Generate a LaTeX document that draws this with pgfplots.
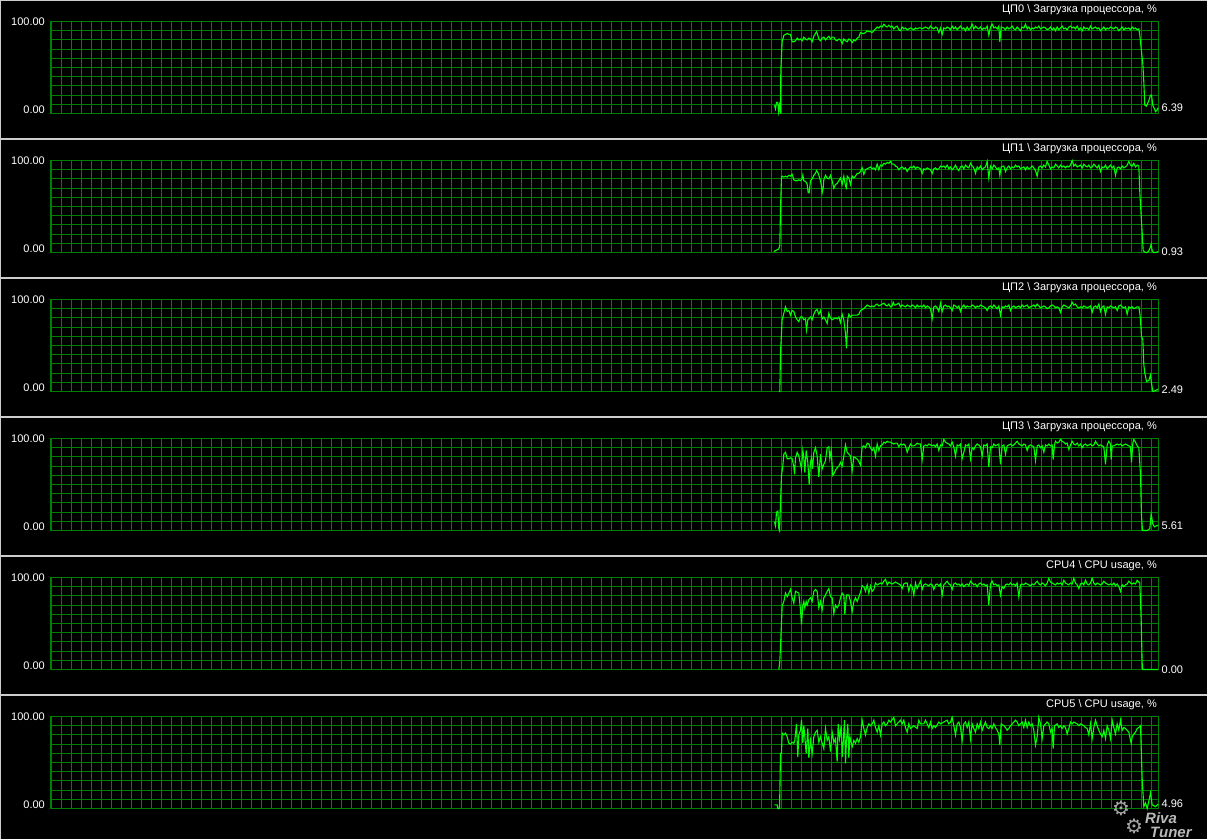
\documentclass[border=0pt]{standalone}
\usepackage{pgfplots}
\pgfplotsset{compat=1.18}
\usepackage{pgfplotstable}
\usepackage{fontspec}
\setmainfont{Liberation Sans}
\newfontfamily\symfont{DejaVu Sans}
\definecolor{gridgreen}{RGB}{0,128,0}
\definecolor{linegreen}{RGB}{0,255,0}
\definecolor{sepgrey}{RGB}{205,205,205}

\pgfplotstableread[row sep=\\]{t v\\
12 9\\ 15 5\\ 18 12\\ 22 12\\ 24 2\\ 27 9\\ 30 0\\ 31 47\\ 35 78\\ 40 85\\ 45 86\\ 50 87\\ 55 86\\ 60 86\\ 65 78\\ 70 78\\ 75 79\\ 80 82\\ 85 80\\ 90 81\\ 95 79\\ 100 83\\ 105 81\\ 110 80\\ 115 82\\ 120 81\\ 125 78\\ 130 84\\ 138 89\\ 142 85\\ 145 81\\ 150 79\\ 155 82\\ 160 83\\ 165 80\\ 170 82\\ 175 84\\ 180 81\\ 185 83\\ 190 83\\ 195 80\\ 200 79\\ 205 81\\ 210 80\\ 215 76\\ 220 81\\ 225 79\\ 230 78\\ 235 81\\ 240 80\\ 245 77\\ 250 80\\ 255 79\\ 260 82\\ 265 83\\ 270 88\\ 275 87\\ 280 87\\ 285 88\\ 290 90\\ 295 89\\ 300 89\\ 305 88\\ 310 90\\ 315 92\\ 320 94\\ 325 93\\ 330 95\\ 335 94\\ 340 97\\ 345 95\\ 350 94\\ 355 96\\ 360 94\\ 365 95\\ 370 92\\ 375 94\\ 380 95\\ 385 91\\ 390 90\\ 395 94\\ 400 92\\ 405 93\\ 410 91\\ 415 92\\ 420 93\\ 425 92\\ 430 91\\ 435 93\\ 440 92\\ 445 93\\ 450 93\\ 455 92\\ 460 93\\ 465 94\\ 470 93\\ 475 92\\ 480 95\\ 485 93\\ 490 92\\ 495 94\\ 500 93\\ 505 88\\ 510 93\\ 515 86\\ 520 93\\ 525 92\\ 530 94\\ 535 93\\ 540 91\\ 545 95\\ 550 92\\ 555 94\\ 560 91\\ 565 93\\ 570 95\\ 575 92\\ 580 93\\ 585 90\\ 590 94\\ 595 91\\ 600 93\\ 605 97\\ 610 92\\ 615 95\\ 620 93\\ 625 92\\ 630 94\\ 635 91\\ 640 93\\ 645 92\\ 650 95\\ 655 85\\ 660 94\\ 665 97\\ 670 93\\ 675 94\\ 680 92\\ 685 95\\ 688 78\\ 692 94\\ 700 93\\ 705 91\\ 710 94\\ 715 92\\ 720 93\\ 725 95\\ 730 92\\ 735 91\\ 740 94\\ 745 92\\ 750 90\\ 755 94\\ 760 93\\ 765 97\\ 770 92\\ 775 94\\ 780 91\\ 785 93\\ 790 92\\ 795 94\\ 800 93\\ 805 95\\ 810 92\\ 815 93\\ 820 94\\ 825 93\\ 830 91\\ 835 92\\ 840 94\\ 845 91\\ 850 93\\ 855 90\\ 860 94\\ 865 91\\ 870 93\\ 875 95\\ 880 92\\ 885 93\\ 890 91\\ 895 94\\ 900 95\\ 905 93\\ 910 94\\ 915 92\\ 920 95\\ 925 91\\ 930 93\\ 935 90\\ 940 94\\ 945 92\\ 950 93\\ 955 91\\ 960 95\\ 965 92\\ 970 93\\ 975 94\\ 980 92\\ 985 93\\ 990 90\\ 995 92\\ 1000 94\\ 1005 91\\ 1010 93\\ 1015 92\\ 1020 94\\ 1025 93\\ 1030 92\\ 1035 94\\ 1040 93\\ 1045 90\\ 1050 92\\ 1055 94\\ 1060 91\\ 1065 93\\ 1070 92\\ 1075 93\\ 1080 91\\ 1085 94\\ 1090 92\\ 1095 93\\ 1100 91\\ 1105 92\\ 1108 85\\ 1110 78\\ 1113 67\\ 1117 54\\ 1120 34\\ 1123 9\\ 1128 8\\ 1135 14\\ 1140 20\\ 1143 20\\ 1147 9\\ 1152 5\\ 1155 2\\ 1160 4\\ 1163 6.39\\
}\cpuA

\pgfplotstableread[row sep=\\]{t v\\
10 1\\ 15 2\\ 20 3\\ 25 4\\ 28 8\\ 30 47\\ 33 82\\ 35 83\\ 40 82\\ 45 83\\ 50 82\\ 55 84\\ 60 83\\ 65 85\\ 70 79\\ 75 78\\ 80 78\\ 85 79\\ 90 78\\ 95 80\\ 97 84\\ 100 78\\ 105 77\\ 108 76\\ 110 74\\ 113 65\\ 116 65\\ 120 78\\ 125 80\\ 130 84\\ 135 86\\ 138 89\\ 142 87\\ 145 84\\ 150 78\\ 153 72\\ 155 65\\ 158 70\\ 160 79\\ 165 84\\ 170 81\\ 175 80\\ 180 84\\ 185 78\\ 190 70\\ 195 74\\ 200 75\\ 205 78\\ 210 81\\ 215 74\\ 220 83\\ 225 72\\ 228 70\\ 230 83\\ 235 81\\ 240 74\\ 245 83\\ 250 81\\ 255 83\\ 260 86\\ 265 86\\ 270 88\\ 275 92\\ 280 85\\ 285 90\\ 290 91\\ 295 92\\ 300 93\\ 305 91\\ 310 92\\ 315 90\\ 320 96\\ 325 90\\ 330 95\\ 335 94\\ 340 97\\ 345 96\\ 350 98\\ 355 97\\ 360 99\\ 365 96\\ 370 96\\ 375 94\\ 380 93\\ 385 90\\ 390 92\\ 395 93\\ 400 91\\ 405 92\\ 410 88\\ 415 91\\ 420 93\\ 425 92\\ 430 94\\ 435 91\\ 440 93\\ 445 92\\ 450 91\\ 455 86\\ 460 91\\ 465 90\\ 470 92\\ 475 91\\ 480 90\\ 485 86\\ 490 91\\ 495 92\\ 500 90\\ 505 91\\ 510 94\\ 515 93\\ 520 94\\ 525 92\\ 530 95\\ 535 91\\ 540 93\\ 545 90\\ 550 92\\ 555 95\\ 560 91\\ 565 89\\ 570 93\\ 575 94\\ 580 91\\ 585 95\\ 590 93\\ 595 92\\ 600 97\\ 605 94\\ 610 92\\ 615 86\\ 620 93\\ 625 91\\ 630 94\\ 635 90\\ 640 92\\ 645 93\\ 650 99\\ 655 81\\ 660 94\\ 665 91\\ 670 95\\ 675 93\\ 680 90\\ 685 92\\ 688 84\\ 692 93\\ 700 94\\ 705 88\\ 710 92\\ 715 94\\ 720 91\\ 725 93\\ 730 92\\ 735 95\\ 740 93\\ 745 94\\ 750 91\\ 755 92\\ 760 93\\ 765 90\\ 770 93\\ 775 91\\ 780 92\\ 785 94\\ 790 92\\ 795 89\\ 800 83\\ 805 93\\ 810 94\\ 815 92\\ 820 95\\ 825 93\\ 830 99\\ 835 95\\ 840 91\\ 845 93\\ 850 92\\ 855 96\\ 860 94\\ 865 92\\ 870 95\\ 875 93\\ 880 94\\ 885 92\\ 890 94\\ 895 93\\ 900 95\\ 905 100\\ 910 94\\ 915 96\\ 920 93\\ 925 94\\ 930 95\\ 935 92\\ 940 96\\ 945 94\\ 950 93\\ 955 95\\ 960 92\\ 965 93\\ 970 96\\ 975 94\\ 980 92\\ 985 95\\ 990 88\\ 995 93\\ 1000 92\\ 1005 95\\ 1010 91\\ 1015 93\\ 1020 95\\ 1025 92\\ 1030 94\\ 1035 84\\ 1040 92\\ 1045 93\\ 1050 91\\ 1055 94\\ 1060 92\\ 1065 93\\ 1070 95\\ 1075 99\\ 1080 95\\ 1085 94\\ 1090 97\\ 1095 93\\ 1100 95\\ 1105 94\\ 1108 65\\ 1112 40\\ 1115 22\\ 1118 2\\ 1125 0\\ 1130 0\\ 1135 2\\ 1140 6\\ 1142 9\\ 1145 2\\ 1150 0\\ 1155 0\\ 1163 0.93\\
}\cpuB

\pgfplotstableread[row sep=\\]{t v\\
25 0\\ 28 0\\ 30 42\\ 35 78\\ 40 85\\ 45 92\\ 50 87\\ 55 88\\ 60 83\\ 65 88\\ 70 87\\ 75 81\\ 80 78\\ 85 76\\ 90 81\\ 95 81\\ 100 78\\ 105 79\\ 108 67\\ 112 78\\ 115 79\\ 120 81\\ 125 78\\ 130 84\\ 135 88\\ 140 89\\ 145 84\\ 150 88\\ 155 79\\ 160 81\\ 165 78\\ 170 74\\ 175 85\\ 180 80\\ 185 78\\ 190 79\\ 195 80\\ 200 79\\ 205 81\\ 210 75\\ 215 84\\ 220 78\\ 225 63\\ 228 47\\ 232 79\\ 235 84\\ 240 81\\ 245 83\\ 250 83\\ 255 83\\ 260 83\\ 265 84\\ 270 88\\ 275 89\\ 280 90\\ 285 92\\ 290 94\\ 295 93\\ 300 92\\ 305 93\\ 310 92\\ 315 94\\ 320 95\\ 325 93\\ 330 94\\ 335 95\\ 340 96\\ 345 94\\ 350 93\\ 355 95\\ 360 92\\ 365 93\\ 368 97\\ 372 94\\ 375 94\\ 380 95\\ 385 96\\ 390 92\\ 395 94\\ 400 93\\ 405 92\\ 410 94\\ 415 93\\ 420 92\\ 425 94\\ 430 93\\ 435 91\\ 440 94\\ 445 92\\ 450 93\\ 455 92\\ 460 94\\ 465 91\\ 470 93\\ 475 92\\ 480 90\\ 485 79\\ 490 92\\ 495 93\\ 500 91\\ 505 87\\ 510 96\\ 515 87\\ 520 93\\ 525 94\\ 530 92\\ 535 93\\ 540 91\\ 545 88\\ 550 94\\ 555 93\\ 560 91\\ 565 93\\ 570 87\\ 575 92\\ 580 94\\ 585 91\\ 590 93\\ 595 92\\ 600 92\\ 605 94\\ 610 93\\ 615 91\\ 620 93\\ 625 92\\ 630 94\\ 635 93\\ 640 92\\ 645 91\\ 650 88\\ 655 92\\ 660 93\\ 665 91\\ 670 94\\ 675 92\\ 680 90\\ 685 93\\ 690 83\\ 695 92\\ 700 91\\ 705 93\\ 710 92\\ 715 94\\ 720 88\\ 725 92\\ 730 93\\ 735 91\\ 740 92\\ 745 93\\ 750 91\\ 755 94\\ 760 92\\ 765 93\\ 770 94\\ 775 91\\ 780 92\\ 785 93\\ 790 94\\ 795 92\\ 800 95\\ 805 93\\ 810 91\\ 815 92\\ 820 93\\ 825 92\\ 830 90\\ 835 91\\ 840 93\\ 845 94\\ 850 93\\ 855 91\\ 860 92\\ 865 91\\ 870 86\\ 875 92\\ 880 94\\ 885 93\\ 890 92\\ 895 91\\ 900 93\\ 905 97\\ 910 94\\ 915 95\\ 920 92\\ 925 91\\ 930 92\\ 935 91\\ 940 93\\ 945 92\\ 950 91\\ 955 92\\ 960 93\\ 965 86\\ 970 92\\ 975 93\\ 980 91\\ 985 95\\ 990 87\\ 995 92\\ 1000 93\\ 1005 84\\ 1010 92\\ 1015 91\\ 1020 93\\ 1025 92\\ 1030 91\\ 1035 92\\ 1040 88\\ 1045 93\\ 1050 94\\ 1055 92\\ 1060 91\\ 1065 92\\ 1070 84\\ 1075 92\\ 1080 91\\ 1085 92\\ 1090 90\\ 1095 91\\ 1100 92\\ 1105 92\\ 1108 85\\ 1110 78\\ 1113 60\\ 1117 56\\ 1120 29\\ 1123 20\\ 1128 11\\ 1135 12\\ 1140 18\\ 1143 9\\ 1147 0\\ 1155 1\\ 1163 2.49\\
}\cpuC

\pgfplotstableread[row sep=\\]{t v\\
12 9\\ 15 5\\ 18 20\\ 22 21\\ 25 2\\ 27 0\\ 30 29\\ 33 60\\ 37 70\\ 40 83\\ 45 85\\ 50 78\\ 55 78\\ 60 79\\ 65 78\\ 70 69\\ 72 61\\ 75 79\\ 80 85\\ 85 81\\ 90 72\\ 93 67\\ 97 87\\ 100 79\\ 103 63\\ 107 87\\ 112 74\\ 116 50\\ 120 74\\ 123 79\\ 126 67\\ 130 85\\ 135 90\\ 140 81\\ 145 58\\ 150 83\\ 155 67\\ 160 72\\ 165 76\\ 170 90\\ 175 91\\ 178 78\\ 182 87\\ 187 60\\ 192 63\\ 197 67\\ 205 70\\ 210 74\\ 215 70\\ 220 81\\ 225 93\\ 230 85\\ 235 83\\ 240 81\\ 245 65\\ 250 80\\ 255 79\\ 262 77\\ 270 71\\ 275 91\\ 280 92\\ 285 90\\ 290 95\\ 295 94\\ 300 90\\ 305 87\\ 310 90\\ 315 81\\ 320 94\\ 325 87\\ 330 92\\ 335 93\\ 340 96\\ 345 95\\ 350 97\\ 355 96\\ 360 96\\ 365 95\\ 370 94\\ 375 95\\ 380 95\\ 385 91\\ 390 94\\ 395 93\\ 400 94\\ 405 92\\ 410 85\\ 415 90\\ 420 94\\ 425 92\\ 430 92\\ 435 93\\ 440 95\\ 445 94\\ 450 94\\ 455 77\\ 460 92\\ 465 93\\ 470 92\\ 475 94\\ 480 93\\ 485 92\\ 490 93\\ 495 91\\ 500 94\\ 505 87\\ 510 93\\ 515 92\\ 520 99\\ 525 96\\ 530 95\\ 535 94\\ 540 92\\ 545 96\\ 550 91\\ 555 81\\ 560 93\\ 565 92\\ 570 94\\ 575 78\\ 580 85\\ 585 93\\ 590 92\\ 595 94\\ 600 78\\ 605 90\\ 610 88\\ 615 92\\ 620 94\\ 625 93\\ 630 91\\ 635 81\\ 640 93\\ 645 92\\ 650 94\\ 655 69\\ 660 91\\ 665 90\\ 670 94\\ 675 92\\ 680 93\\ 685 94\\ 690 72\\ 695 92\\ 700 93\\ 705 83\\ 710 92\\ 715 93\\ 720 94\\ 725 92\\ 730 93\\ 735 95\\ 740 97\\ 745 94\\ 750 93\\ 755 92\\ 760 94\\ 765 93\\ 770 87\\ 775 92\\ 780 93\\ 785 92\\ 790 91\\ 795 76\\ 800 92\\ 805 93\\ 810 90\\ 815 92\\ 820 85\\ 825 93\\ 830 92\\ 835 94\\ 840 92\\ 845 93\\ 848 77\\ 852 93\\ 855 97\\ 860 95\\ 865 96\\ 870 99\\ 875 97\\ 880 96\\ 885 94\\ 890 95\\ 895 88\\ 900 93\\ 905 97\\ 910 94\\ 915 93\\ 920 95\\ 925 92\\ 930 94\\ 935 90\\ 940 93\\ 945 94\\ 950 92\\ 955 93\\ 960 94\\ 965 92\\ 970 93\\ 975 97\\ 980 94\\ 985 92\\ 990 93\\ 995 92\\ 1000 91\\ 1005 72\\ 1010 93\\ 1015 97\\ 1020 94\\ 1022 77\\ 1025 92\\ 1030 92\\ 1035 93\\ 1040 94\\ 1045 93\\ 1050 94\\ 1055 92\\ 1060 93\\ 1065 94\\ 1070 93\\ 1075 92\\ 1080 91\\ 1083 74\\ 1087 95\\ 1090 99\\ 1095 96\\ 1100 92\\ 1105 90\\ 1110 61\\ 1113 16\\ 1116 0\\ 1125 0\\ 1130 0\\ 1138 2\\ 1142 18\\ 1147 7\\ 1152 4\\ 1157 5\\ 1163 5.61\\
}\cpuD

\pgfplotstableread[row sep=\\]{t v\\
25 0\\ 28 9\\ 32 42\\ 35 69\\ 40 74\\ 45 83\\ 50 79\\ 55 83\\ 60 87\\ 65 78\\ 70 72\\ 75 85\\ 80 84\\ 85 83\\ 90 65\\ 93 49\\ 97 70\\ 100 74\\ 103 67\\ 107 74\\ 110 70\\ 115 76\\ 120 78\\ 125 74\\ 130 85\\ 135 87\\ 140 85\\ 145 67\\ 150 74\\ 155 65\\ 160 78\\ 165 81\\ 170 85\\ 175 88\\ 180 79\\ 185 78\\ 190 61\\ 195 70\\ 200 67\\ 205 70\\ 210 78\\ 215 83\\ 220 81\\ 223 60\\ 228 81\\ 235 81\\ 240 74\\ 245 63\\ 250 74\\ 255 78\\ 260 74\\ 265 79\\ 270 84\\ 275 91\\ 280 90\\ 285 85\\ 290 92\\ 295 83\\ 300 91\\ 305 85\\ 310 87\\ 315 94\\ 320 92\\ 325 93\\ 330 94\\ 335 93\\ 340 96\\ 345 98\\ 350 92\\ 355 95\\ 360 94\\ 365 93\\ 370 94\\ 375 95\\ 380 94\\ 385 93\\ 390 92\\ 395 88\\ 400 93\\ 405 94\\ 410 94\\ 415 85\\ 420 92\\ 425 90\\ 430 81\\ 435 94\\ 440 88\\ 445 92\\ 450 96\\ 455 87\\ 460 92\\ 465 93\\ 470 92\\ 475 91\\ 480 93\\ 485 92\\ 490 87\\ 495 92\\ 500 93\\ 505 91\\ 510 93\\ 515 81\\ 520 92\\ 525 94\\ 530 96\\ 535 93\\ 540 92\\ 545 87\\ 550 93\\ 555 94\\ 560 92\\ 565 93\\ 570 91\\ 575 93\\ 580 90\\ 585 92\\ 590 93\\ 595 91\\ 600 96\\ 605 94\\ 610 92\\ 615 93\\ 620 90\\ 625 93\\ 630 94\\ 635 92\\ 640 93\\ 645 91\\ 650 92\\ 655 70\\ 660 93\\ 665 96\\ 670 92\\ 675 93\\ 680 91\\ 685 92\\ 690 81\\ 695 90\\ 700 88\\ 705 92\\ 710 93\\ 715 92\\ 720 94\\ 725 92\\ 730 93\\ 735 91\\ 740 94\\ 745 79\\ 750 92\\ 755 93\\ 760 92\\ 765 94\\ 770 93\\ 775 92\\ 780 91\\ 785 93\\ 790 92\\ 795 94\\ 800 96\\ 805 93\\ 810 92\\ 815 94\\ 820 93\\ 825 91\\ 830 94\\ 835 99\\ 840 95\\ 845 94\\ 850 93\\ 855 92\\ 860 94\\ 865 93\\ 870 94\\ 875 92\\ 880 97\\ 885 94\\ 890 93\\ 895 92\\ 900 94\\ 905 93\\ 910 99\\ 915 94\\ 920 92\\ 925 88\\ 930 93\\ 935 94\\ 940 92\\ 945 97\\ 950 93\\ 955 92\\ 960 94\\ 965 99\\ 970 94\\ 975 92\\ 980 94\\ 985 93\\ 990 92\\ 995 93\\ 1000 96\\ 1005 94\\ 1010 93\\ 1015 92\\ 1020 93\\ 1025 92\\ 1030 94\\ 1035 91\\ 1040 93\\ 1045 90\\ 1050 85\\ 1055 92\\ 1060 90\\ 1065 92\\ 1070 93\\ 1075 96\\ 1080 94\\ 1085 93\\ 1090 94\\ 1095 93\\ 1100 97\\ 1105 95\\ 1108 94\\ 1112 54\\ 1115 7\\ 1117 0\\ 1130 0\\ 1140 0\\ 1150 0\\ 1163 0\\
}\cpuE

\pgfplotstableread[row sep=\\]{t v\\
12 4\\ 20 4\\ 22 0\\ 27 0\\ 28 17\\ 30 60\\ 33 60\\ 35 82\\ 40 80\\ 45 82\\ 50 78\\ 55 71\\ 60 70\\ 65 72\\ 70 71\\ 73 74\\ 78 92\\ 82 56\\ 85 80\\ 90 85\\ 93 96\\ 97 71\\ 100 90\\ 103 78\\ 107 60\\ 112 87\\ 115 55\\ 120 74\\ 125 60\\ 130 78\\ 135 83\\ 140 85\\ 145 72\\ 150 78\\ 155 71\\ 160 65\\ 165 87\\ 170 74\\ 175 78\\ 180 62\\ 185 83\\ 190 72\\ 195 76\\ 200 51\\ 203 92\\ 207 76\\ 212 90\\ 215 56\\ 218 71\\ 222 96\\ 225 49\\ 228 74\\ 232 92\\ 235 55\\ 238 78\\ 242 72\\ 245 67\\ 250 74\\ 255 71\\ 260 76\\ 265 72\\ 270 78\\ 275 96\\ 280 87\\ 285 80\\ 290 88\\ 295 92\\ 300 90\\ 305 92\\ 310 96\\ 315 88\\ 320 83\\ 325 90\\ 330 80\\ 335 92\\ 340 94\\ 345 90\\ 350 92\\ 355 96\\ 360 94\\ 370 99\\ 375 90\\ 380 92\\ 385 94\\ 390 96\\ 395 92\\ 400 96\\ 405 88\\ 410 83\\ 415 92\\ 420 87\\ 430 90\\ 440 87\\ 445 96\\ 450 92\\ 460 92\\ 465 96\\ 470 92\\ 475 88\\ 480 94\\ 485 87\\ 490 90\\ 495 88\\ 505 94\\ 510 92\\ 520 94\\ 530 96\\ 535 92\\ 540 94\\ 545 99\\ 550 90\\ 555 80\\ 560 92\\ 565 94\\ 570 88\\ 575 74\\ 580 92\\ 585 94\\ 590 88\\ 595 94\\ 600 76\\ 605 92\\ 610 87\\ 615 83\\ 620 92\\ 625 87\\ 630 94\\ 635 85\\ 640 90\\ 645 94\\ 650 88\\ 655 87\\ 660 90\\ 665 87\\ 670 92\\ 675 88\\ 680 85\\ 685 81\\ 688 69\\ 692 92\\ 700 90\\ 705 88\\ 710 85\\ 715 87\\ 720 90\\ 725 92\\ 730 94\\ 735 96\\ 740 94\\ 745 90\\ 750 92\\ 755 94\\ 760 88\\ 765 96\\ 770 88\\ 775 94\\ 780 90\\ 785 92\\ 790 85\\ 795 69\\ 800 78\\ 805 99\\ 810 92\\ 815 76\\ 820 90\\ 825 92\\ 830 94\\ 835 92\\ 840 83\\ 845 87\\ 848 65\\ 852 90\\ 860 92\\ 865 88\\ 870 90\\ 875 87\\ 880 90\\ 885 88\\ 890 81\\ 895 87\\ 900 94\\ 905 92\\ 910 94\\ 920 92\\ 925 90\\ 930 92\\ 940 90\\ 945 88\\ 950 87\\ 955 80\\ 960 92\\ 965 76\\ 970 88\\ 975 96\\ 980 90\\ 985 85\\ 990 81\\ 995 78\\ 1000 85\\ 1005 76\\ 1010 90\\ 1015 85\\ 1020 76\\ 1025 96\\ 1030 88\\ 1035 81\\ 1040 92\\ 1045 85\\ 1050 96\\ 1055 85\\ 1060 88\\ 1065 87\\ 1070 85\\ 1075 83\\ 1082 71\\ 1085 78\\ 1090 81\\ 1095 83\\ 1100 87\\ 1105 88\\ 1110 90\\ 1112 67\\ 1115 33\\ 1117 20\\ 1120 2\\ 1125 6\\ 1130 0\\ 1135 8\\ 1140 17\\ 1145 4\\ 1150 3\\ 1155 2\\ 1163 4.96\\
}\cpuF

\tikzset{lbl/.style={font=\fontsize{11}{13}\selectfont, text=white, inner sep=0pt}}

\pgfplotsset{cpu/.style={
  scale only axis, width=1108pt, height=92pt,
  xmin=-2160, xmax=1164, ymin=0, ymax=100,
  xtick={-2157,-2127,...,1143}, ytick={0,10,...,100},
  xmajorticks=false, ymajorticks=false,
  xmajorgrids=true, ymajorgrids=true,
  major grid style={line width=1pt, color=gridgreen},
  axis line style={line width=1pt, color=gridgreen},
  clip=false, anchor=north west,
}}

\newcommand{\cpupanel}[6]{%
\begin{axis}[cpu, at={(50.5pt,#1)}]
\addplot[linegreen, line width=1.1pt] table[x=t,y=v] {#2};
\node[lbl, anchor=east, xshift=-5.5pt] at (rel axis cs:0,1) {100.00};
\node[lbl, anchor=base east, xshift=-5.5pt] at (rel axis cs:0,0) {0.00};
\node[lbl, anchor=west, xshift=3pt] at (axis cs:1164,#4) {#5};
\end{axis}
\node[lbl, anchor=base east] at (1157pt,#6) {#3};
}

\begin{document}
\begin{tikzpicture}
\fill[black] (0,0) rectangle (1207pt,-839pt);
\draw[sepgrey, line width=1pt] (0.5pt,-839pt) -- (0.5pt,-0.5pt) -- (1207pt,-0.5pt);
\foreach \yy in {138.5,277.5,416.5,555.5,694.5} {
  \draw[sepgrey, line width=2pt] (0,-\yy pt) -- (1207pt,-\yy pt);
}
\cpupanel{-21.5pt}{\cpuA}{ЦП0 \textbackslash\ Загрузка процессора, \%}{6.39}{6.39}{-12.5pt}
\cpupanel{-160.5pt}{\cpuB}{ЦП1 \textbackslash\ Загрузка процессора, \%}{0.93}{0.93}{-151.5pt}
\cpupanel{-299.5pt}{\cpuC}{ЦП2 \textbackslash\ Загрузка процессора, \%}{2.49}{2.49}{-290.5pt}
\cpupanel{-438.5pt}{\cpuD}{ЦП3 \textbackslash\ Загрузка процессора, \%}{5.61}{5.61}{-429.5pt}
\cpupanel{-577.5pt}{\cpuE}{CPU4 \textbackslash\ CPU usage, \%}{0}{0.00}{-568.5pt}
\cpupanel{-716.5pt}{\cpuF}{CPU5 \textbackslash\ CPU usage, \%}{4.96}{4.96}{-707.5pt}
\node[text=gray!70, font=\symfont\fontsize{20}{20}\selectfont] at (1121pt,-808pt) {⚙};
\node[text=gray!70, font=\symfont\fontsize{20}{20}\selectfont] at (1134pt,-826pt) {⚙};
\node[text=gray!55, font=\fontsize{15}{15}\selectfont\bfseries\itshape, anchor=west, inner sep=0pt] at (1145pt,-818pt) {Riva};
\node[text=gray!55, font=\fontsize{15}{15}\selectfont\bfseries\itshape, anchor=west, inner sep=0pt] at (1150pt,-832pt) {Tuner};
\pgfresetboundingbox
\path[use as bounding box] (0,0) rectangle (1207pt,-839pt);
\end{tikzpicture}
\end{document}
